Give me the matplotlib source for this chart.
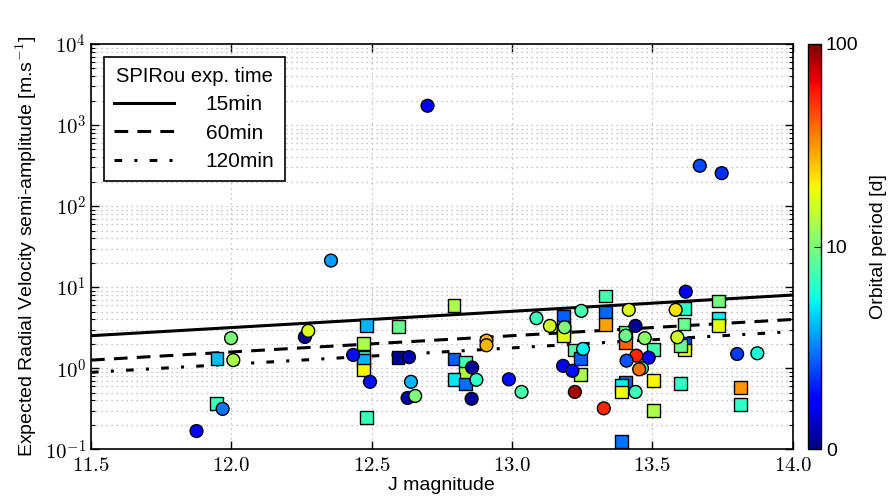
import numpy as np
import matplotlib
matplotlib.use("Agg")
import matplotlib.pyplot as plt
from matplotlib.colors import LogNorm
from matplotlib.ticker import FuncFormatter, LogLocator, FixedLocator

plt.rcParams['font.family'] = ['Liberation Sans', 'DejaVu Sans']
plt.rcParams['mathtext.fontset'] = 'cm'

# ---- data -------------------------------------------------------------
# circles: J magnitude, expected K [m/s], orbital period [d]
circ_j = [11.876, 11.969, 11.999, 12.007, 12.262, 12.274, 12.355, 12.434, 12.494,
          12.633, 12.640, 12.628, 12.655, 12.699, 13.669, 13.747, 13.087, 13.135,
          13.247, 13.187, 12.909, 12.909, 12.858, 12.873, 12.856, 12.989, 13.034,
          13.253, 13.182, 13.215, 13.224, 13.327, 13.416, 13.440, 13.405, 13.473,
          13.443, 13.408, 13.487, 13.463, 13.453, 13.440, 13.619, 13.583, 13.589,
          13.802, 13.874]
circ_k = [0.168, 0.315, 2.35, 1.26, 2.43, 2.89, 21.3, 1.46, 0.68,
          1.37, 0.68, 0.43, 0.455, 1730, 315, 255, 4.14, 3.33,
          5.1, 3.2, 2.19, 1.92, 1.02, 0.72, 0.42, 0.73, 0.51,
          1.73, 1.07, 0.93, 0.51, 0.32, 5.25, 3.33, 2.52, 2.35,
          1.43, 1.24, 1.35, 1.0, 0.97, 0.51, 8.8, 5.25, 2.41,
          1.50, 1.53]
circ_p = [1.7, 3.0, 10, 13, 1.1, 17, 3.6, 1.9, 1.9,
          1.2, 4.0, 1.2, 10, 1.6, 2.5, 2.2, 7, 16,
          7.5, 10, 27, 27, 1.1, 6.5, 1.1, 1.9, 7.5,
          5.3, 1.8, 1.9, 85, 55, 17, 1.1, 9, 11,
          55, 2.6, 1.8, 7.5, 38, 7, 1.6, 22, 16,
          2.3, 6]

# squares: J magnitude, expected K [m/s], orbital period [d]
sq_j = [11.948, 11.949, 12.482, 12.471, 12.471, 12.471, 12.471, 12.482, 12.596,
        12.594, 12.793, 13.182, 13.182, 13.182, 13.182, 12.793, 12.835, 12.835,
        12.793, 12.835, 13.221, 13.244, 13.244, 13.332, 13.332, 13.332, 13.405,
        13.405, 13.505, 13.405, 13.390, 13.390, 13.505, 13.505, 13.390, 13.615,
        13.613, 13.735, 13.735, 13.735, 13.615, 13.615, 13.600, 13.600, 13.815,
        13.815]
sq_k = [0.37, 1.33, 3.40, 2.0, 1.37, 1.24, 0.95, 0.248, 3.27,
        1.35, 5.93, 4.33, 3.2, 2.9, 2.55, 1.30, 1.19, 0.87,
        0.72, 0.64, 1.68, 1.33, 0.84, 7.8, 4.85, 3.43, 2.8,
        2.1, 1.72, 0.66, 0.61, 0.51, 0.70, 0.30, 0.124, 5.5,
        3.52, 6.77, 4.14, 3.36, 2.04, 1.68, 1.90, 0.65, 0.58,
        0.36]
sq_p = [7, 4.2, 4, 13, 7, 4, 20, 7, 9,
        1.1, 13, 2.7, 7.5, 13, 18, 2.7, 7.5, 13,
        5, 2.9, 8, 2.7, 13, 7.5, 2.8, 30, 9,
        40, 7.5, 2.8, 5.3, 19, 20, 13, 3, 6.5,
        9, 9.5, 5.3, 18, 2.5, 18, 9, 6.5, 32,
        6.5]

# detection-limit lines (straight in log space): endpoints
line_j = [11.5, 14.0]
rv_15min = [2.52, 8.0]
rv_60min = [1.26, 4.0]
rv_120min = [0.89, 2.83]
legend_labels = ['15min', '60min', '120min']

cbar_ticks = [1, 10, 100]
cbar_ticklabels = ['0', '10', '100']

# ---- figure -----------------------------------------------------------
fig = plt.figure(figsize=(8.92, 4.97), dpi=100)
ax = fig.add_axes([91/892, (497-449.3)/497, (792.7-91)/892, (449.3-44)/497])

norm = LogNorm(vmin=1, vmax=100)
cmap = plt.get_cmap('jet')

ax.set_yscale('log')
ax.set_xlim(11.5, 14.0)
ax.set_ylim(0.1, 1e4)

ax.grid(True, which='major', axis='both', color='#b4b4b4', linestyle=(0, (1, 3)), linewidth=0.9)
ax.grid(True, which='minor', axis='y', color='#b4b4b4', linestyle=(0, (1, 3)), linewidth=0.9)
ax.set_axisbelow(True)

l1, = ax.plot(line_j, rv_15min, color='black', lw=2.2, linestyle='-')
l2, = ax.plot(line_j, rv_60min, color='black', lw=2.2, linestyle=(0, (4.5, 3)),
              dash_capstyle='butt')
l3, = ax.plot(line_j, rv_120min, color='black', lw=2.2, linestyle=(0, (2.5, 4, 1, 4)),
              dash_capstyle='butt')

ax.scatter(sq_j, sq_k, c=sq_p, cmap=cmap, norm=norm, marker='s', s=85,
           edgecolors='black', linewidths=1.0, zorder=3)
sc = ax.scatter(circ_j, circ_k, c=circ_p, cmap=cmap, norm=norm, marker='o', s=85,
                edgecolors='black', linewidths=1.0, zorder=4)

ax.xaxis.set_major_locator(FixedLocator([11.5, 12.0, 12.5, 13.0, 13.5, 14.0]))
ax.xaxis.set_major_formatter(FuncFormatter(lambda v, p: r'$%.1f$' % v))
ax.yaxis.set_major_locator(LogLocator(base=10, numticks=10))
ax.yaxis.set_minor_locator(LogLocator(base=10, subs=np.arange(2, 10), numticks=20))
ax.yaxis.set_major_formatter(FuncFormatter(lambda v, p: r'$10^{%d}$' % int(round(np.log10(v)))))

ax.tick_params(which='both', direction='in', top=True, right=True, labelsize=15)
ax.tick_params(which='major', length=6, width=1)
ax.tick_params(which='minor', length=3, width=0.8)
ax.tick_params(axis='x', pad=5)
for s in ax.spines.values():
    s.set_linewidth(1.2)

ax.set_xlabel('J magnitude', fontsize=14, labelpad=1)
ax.set_ylabel(r'Expected Radial Velocity semi-amplitude [m.s$^{-1}$]', fontsize=14, labelpad=4)

leg = ax.legend([l1, l2, l3], legend_labels, title='SPIRou exp. time', loc='upper left',
                fontsize=15, title_fontsize=14.5, handlelength=2.9, handletextpad=1.5,
                fancybox=False, framealpha=1, edgecolor='black', borderaxespad=0.6,
                borderpad=0.5, labelspacing=0.45)
leg.get_frame().set_linewidth(1.2)

# colorbar
cax = fig.add_axes([808/892, (497-449.3)/497, 13/892, (449.3-44)/497])
cb = fig.colorbar(sc, cax=cax)
cb.set_ticks(cbar_ticks)
cb.set_ticklabels(cbar_ticklabels)
cb.minorticks_off()
cax.tick_params(labelsize=14, length=5, direction='in')
cb.outline.set_linewidth(1.0)
cb.set_label('Orbital period [d]', fontsize=14, labelpad=8)

fig.savefig('out.png', dpi=100)
